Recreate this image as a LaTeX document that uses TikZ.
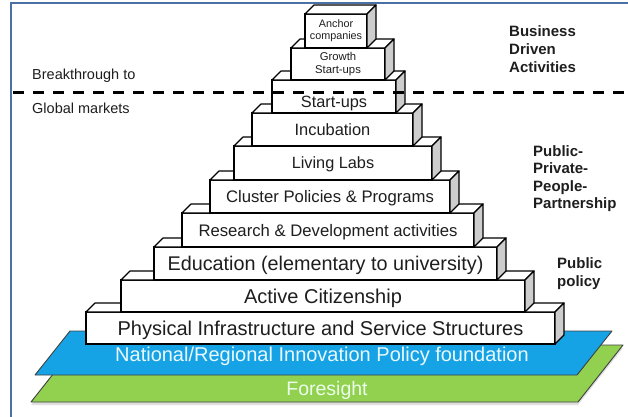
\documentclass[tikz,border=0pt]{standalone}
\usepackage{fontspec}
\setmainfont{Liberation Sans}
\usetikzlibrary{shadows}
\definecolor{framecol}{RGB}{74,112,165}
\definecolor{slabblue}{RGB}{22,163,230}
\definecolor{slabgreen}{RGB}{146,208,80}
\definecolor{sidegray}{RGB}{205,205,205}
\definecolor{txt}{RGB}{30,30,30}
\newcommand{\pyrfaces}[1]{%
  \draw[topf] (#1.north west) -- ++(9,-9) -- ([shift={(9,-9)}]#1.north east) -- (#1.north east) -- cycle;
  \draw[sidef] (#1.north east) -- ++(9,-9) -- ([shift={(9,-9)}]#1.south east) -- (#1.south east) -- cycle;}
\newcommand{\pyrbox}[8][]{% [extra], name, L, T, R, B, font size, text
  \node[front, minimum width={#5-#3}, minimum height={#6-#4}, font=\fontsize{#7}{#7}\selectfont,
    text height={0.72*#7}, text depth=0pt, #1]
    (#2) at ({(#3+#5)/2},{(#4+#6)/2}) {#8};
  \pyrfaces{#2}}
\begin{document}
\begin{tikzpicture}[x=1pt,y=-1pt,
  front/.style={draw=black, line width=1.2pt, fill=white, inner sep=0pt, outer sep=0pt, text=txt},
  front2/.style={draw=black, line width=1.2pt, fill=white, inner sep=0pt, outer sep=0pt,
    text=txt, align=center},
  topf/.style={draw=black, line width=1.2pt, fill=white, line join=round},
  sidef/.style={draw=black, line width=1.2pt, fill=sidegray, line join=round},
  slab/.style={draw=black!75, line width=0.9pt, line join=round},
  lbl/.style={inner sep=0pt, text=txt, font=\fontsize{14.5}{16}\selectfont},
  blbl/.style={inner sep=0pt, text=txt, align=left, anchor=north west},
  slabtxt/.style={inner sep=0pt, text depth=0pt}
]
\useasboundingbox (0,0) rectangle (628,416);
% frame
\draw[framecol, line width=2.2pt] (11,417) -- (11,3) -- (629,3);
% foundation slabs
\path[slab, fill=slabgreen, drop shadow={opacity=0.25, shadow xshift=0pt, shadow yshift=-3pt}]
  (76,345) -- (623,345) -- (578,402) -- (31,402) -- cycle;
\path[slab, fill=slabblue] (70,331) -- (612,331) -- (577,375) -- (35,375) -- cycle;
\node[slabtxt, text height=14pt, text=green!8!white, font=\fontsize{19.5}{20}\selectfont] (fore) at (327,388) {Foresight};
\node[slabtxt, text height=14.4pt, text=cyan!8!white, font=\fontsize{20}{21}\selectfont] (natl) at (322,354) {National/Regional Innovation Policy foundation};
% pyramid
\pyrbox{phys}{86}{312}{555}{344}{20}{Physical Infrastructure and Service Structures}
\pyrbox{active}{121}{280}{525}{312}{20}{Active Citizenship}
\pyrbox{edu}{154}{247}{497}{280}{19.8}{Education (elementary to university)}
\pyrbox{rnd}{182}{213}{474}{247}{16.7}{Research \& Development activities}
\pyrbox{cluster}{210}{180}{450}{213}{16.7}{Cluster Policies \& Programs}
\pyrbox{living}{234}{146}{432}{180}{16.3}{Living Labs}
\pyrbox{incub}{252}{113}{413}{146}{16.4}{Incubation}
\pyrbox[text height=21pt, text depth=0pt]{start}{272}{80}{396}{113}{16.3}{Start-ups}
\node[front2, minimum width=94, minimum height=32, font=\fontsize{11.3}{13}\selectfont]
  (growth) at (338,64) {Growth\\Start-ups};
\pyrfaces{growth}
\node[front2, minimum width=62, minimum height=34, font=\fontsize{10.8}{12}\selectfont]
  (anchor) at (336,31) {Anchor\\companies};
\pyrfaces{anchor}
% dashed line
\coordinate (dl) at (11,92);
\coordinate (dr) at (628,92);
\draw[black, line width=3pt, dash pattern=on 11pt off 9pt, dash phase=-2pt] (dl) -- (dr);
% left labels
\node[lbl, anchor=base west] (brk) at (32,79) {Breakthrough to};
\node[lbl, anchor=base west] (glob) at (32,113) {Global markets};
% right labels
\node[blbl, font=\fontsize{15}{18}\selectfont\bfseries] (biz) at (509,25.3) {Business\\Driven\\Activities};
\node[blbl, font=\fontsize{15}{17.5}\selectfont\bfseries] (ppp) at (533,145.3) {Public-\\Private-\\People-\\Partnership};
\node[blbl, font=\fontsize{15}{18}\selectfont\bfseries] (pub) at (557,257.3) {Public\\policy};
\end{tikzpicture}
\end{document}
